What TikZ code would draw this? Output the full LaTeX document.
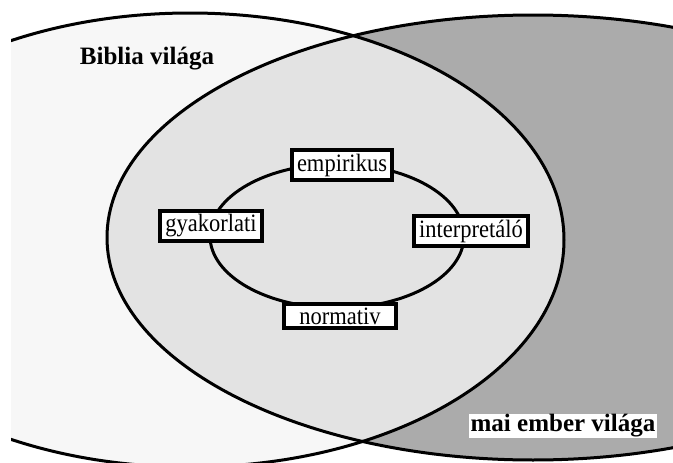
\documentclass[tikz,border=0pt]{standalone}
\usepackage{fontspec}
\setmainfont{Liberation Serif}
\usepackage{tikz}
\usetikzlibrary{positioning}

\definecolor{biblia}{gray}{0.97}
\definecolor{kozos}{gray}{0.89}
\definecolor{mai}{gray}{0.67}

\newcommand{\szuk}[1]{\scalebox{0.9}[1]{#1}}

\tikzset{
  kerdes/.style={draw, line width=4pt, fill=white, inner xsep=5pt,
    minimum height=30pt, font=\fontsize{25}{28}\selectfont},
  vilag/.style={font=\fontsize{25}{28}\selectfont\bfseries, inner sep=0.5pt}
}

\begin{document}
\begin{tikzpicture}[x=1pt,y=-1pt]
\useasboundingbox (0,0) rectangle (673,463);
\fill[white] (0,0) rectangle (673,463);

\begin{scope}
\clip (11,0) rectangle (673,463);

\fill[biblia] (190,240) ellipse (374pt and 227pt) ;
\fill[mai] (533,237.5) ellipse (426pt and 222.5pt) ;
\begin{scope}
\clip (190,240) ellipse (374pt and 227pt) ;
\fill[kozos] (533,237.5) ellipse (426pt and 222.5pt) ;
\end{scope}

\draw[line width=3pt] (190,240) ellipse (374pt and 227pt) ;
\draw[line width=3pt] (533,237.5) ellipse (426pt and 222.5pt) ;
\end{scope}

\draw[line width=3pt] (337,236) ellipse (127pt and 72pt) ;

\node[vilag] (biblia) at (147,59) {Biblia világa};
\node[vilag, fill=white, inner xsep=2pt] (mai) at (563,426) {mai ember világa};

\node[kerdes] (empirikus) at (342,165) {\szuk{empirikus}};
\node[kerdes, minimum height=28pt] (gyakorlati) at (211,226) {\szuk{gyakorlati}};
\node[kerdes, minimum height=28pt] (interpretalo) at (471,231) {\szuk{interpretáló}};
\node[kerdes, minimum width=112pt, minimum height=24pt] (normativ) at (340,316) {\szuk{normativ}};
\end{tikzpicture}
\end{document}
